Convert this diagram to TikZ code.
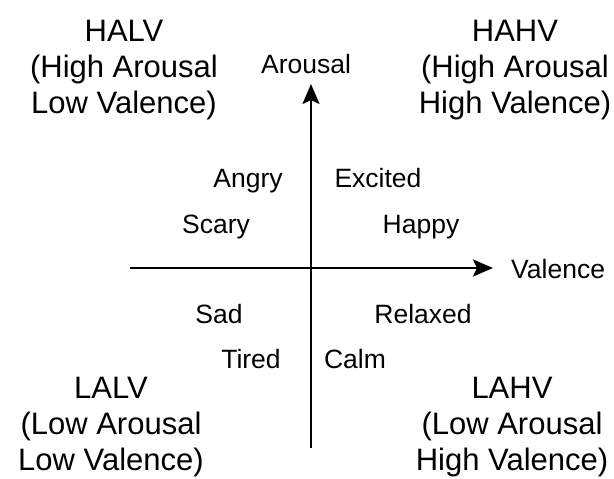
\documentclass[tikz,border=0pt]{standalone}
\usepackage{fontspec}
\setmainfont{Liberation Sans}
\usetikzlibrary{arrows.meta}
\begin{document}
\begin{tikzpicture}[x=1pt,y=-1pt,
  quad/.style={font=\fontsize{31}{36}\selectfont,align=center,inner sep=0pt},
  word/.style={font=\fontsize{26.5}{30}\selectfont,inner sep=0pt,anchor=base},
  axis/.style={line width=2pt,-{Stealth[length=20pt,width=17pt,inset=4pt]}}]
\useasboundingbox (0,0) rectangle (614,479);
\coordinate (vb) at (311,448);
\coordinate (vt) at (311,84);
\coordinate (hl) at (130,268);
\coordinate (hr) at (493,268);
\draw[axis] (vb) -- (vt);
\draw[axis] (hl) -- (hr);
\node[quad] (halv) at (124,70) {HALV\\(High Arousal\\Low Valence)};
\node[quad] (hahv) at (515,70) {HAHV\\(High Arousal\\High Valence)};
\node[quad] (lalv) at (111,427) {LALV\\(Low Arousal\\Low Valence)};
\node[quad] (lahv) at (512,427) {LAHV\\(Low Arousal\\High Valence)};
\node[word] (arousal) at (306,74) {Arousal};
\node[word,anchor=base west] (valence) at (511,278) {Valence};
\node[word] (angry) at (248,187) {Angry};
\node[word] (excited) at (378,187) {Excited};
\node[word] (scary) at (216,233) {Scary};
\node[word] (happy) at (421,233) {Happy};
\node[word] (sad) at (219,323) {Sad};
\node[word] (relaxed) at (423,323) {Relaxed};
\node[word] (tired) at (251,368) {Tired};
\node[word] (calm) at (355,368) {Calm};
\end{tikzpicture}
\end{document}
